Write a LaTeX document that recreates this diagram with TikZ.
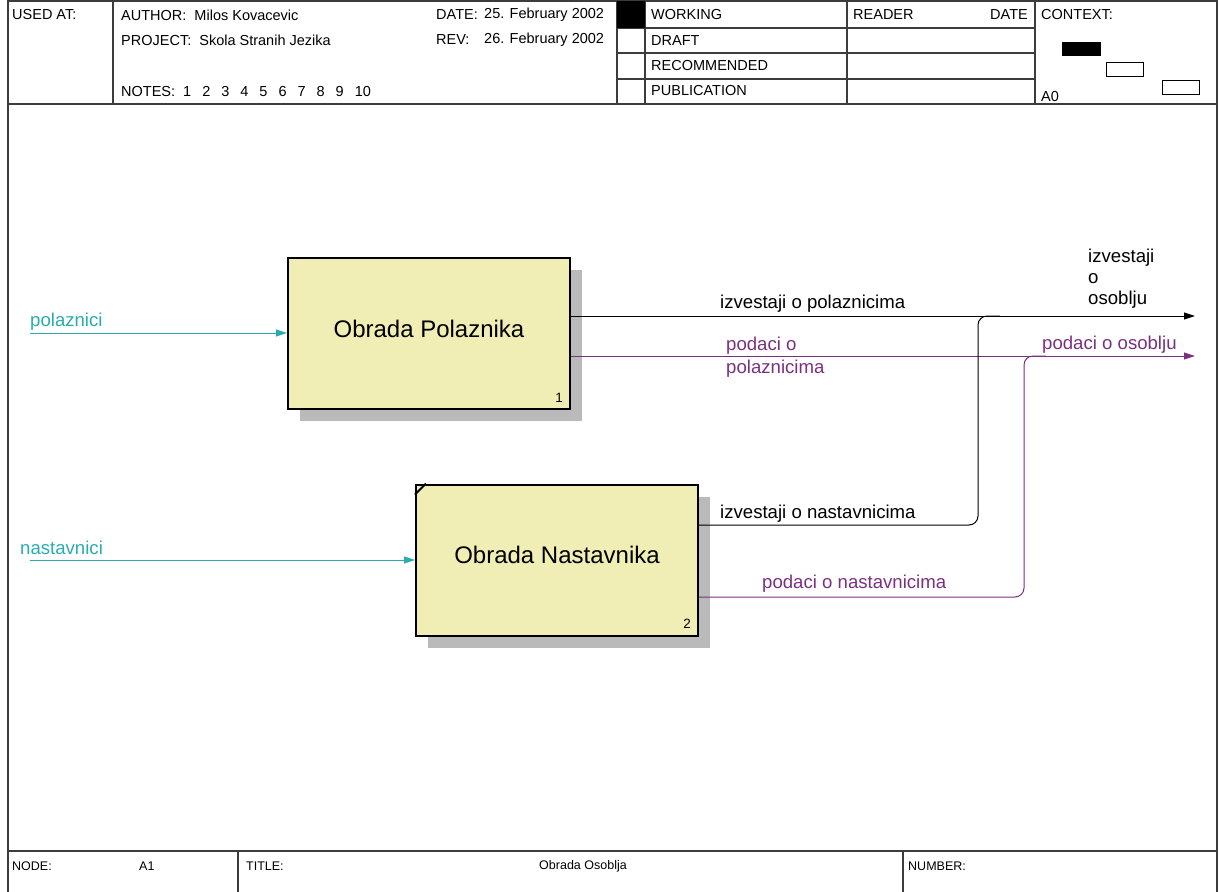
\documentclass[tikz,border=0pt]{standalone}
\usepackage{fontspec}
\setmainfont{Liberation Sans}
\usetikzlibrary{arrows.meta,shadows}
\definecolor{flowcyan}{RGB}{42,172,175}
\definecolor{flowpurple}{RGB}{122,48,128}
\definecolor{boxfill}{RGB}{240,238,180}
\definecolor{framec}{RGB}{60,60,60}
\tikzset{
  frameline/.style={line width=1.3pt, draw=framec},
  hdr/.style={anchor=west, inner sep=0pt, font=\fontsize{14.5}{16}\selectfont},
  ftr/.style={anchor=west, inner sep=0pt, font=\fontsize{12.5}{14}\selectfont},
  lbl/.style={anchor=west, inner sep=0pt, align=left, font=\fontsize{18.6}{23}\selectfont},
  actbox/.style={draw=black, line width=2pt, fill=boxfill, minimum width=282pt,
    minimum height=151pt, inner sep=0pt, font=\fontsize{24}{28}\selectfont,
    drop shadow={shadow xshift=12pt, shadow yshift=-12pt, fill=black!27, draw=none, opacity=1}},
  boxnum/.style={inner sep=0pt, font=\fontsize{13.5}{15}\selectfont},
  flow/.style={line width=1pt, -{Triangle[length=11pt,width=7pt]}},
  joinline/.style={line width=1pt, rounded corners=9pt},
}
\begin{document}
\begin{tikzpicture}[x=1pt,y=-1pt]
\useasboundingbox (0,0) rectangle (1219,892);
% ---------- frame ----------
\draw[frameline] (8,892) -- (8,1) -- (1217,1) -- (1217,892);
\draw[frameline] (8,104) -- (1217,104);
\draw[frameline] (8,851) -- (1217,851);
\draw[frameline] (113,1) -- (113,104);
\draw[frameline] (617,1) -- (617,104);
\draw[frameline] (645,1) -- (645,104);
\draw[frameline] (847,1) -- (847,104);
\draw[frameline] (1035,1) -- (1035,104);
\draw[frameline] (617,28) -- (1035,28);
\draw[frameline] (617,53) -- (1035,53);
\draw[frameline] (617,79) -- (1035,79);
\fill[black] (617,1) rectangle (645,28);
\draw[frameline] (238,851) -- (238,892);
\draw[frameline] (903,851) -- (903,892);
% context rectangles
\fill[black] (1062,42) rectangle (1101,56);
\draw[black, line width=1pt] (1106,62) rectangle (1143,76);
\draw[black, line width=1pt] (1162,80) rectangle (1199,94);
% ---------- header text ----------
\node[hdr] (usedat) at (12,15) {USED AT:};
\node[hdr] (author) at (121,15) {AUTHOR:\ \ Milos Kovacevic};
\node[hdr] (project) at (121,40) {PROJECT:\ \ Skola Stranih Jezika};
\node[hdr] (notes) at (121,92) {NOTES:\ \ 1\hspace{11pt}2\hspace{11pt}3\hspace{11pt}4\hspace{11pt}5\hspace{11pt}6\hspace{11pt}7\hspace{11pt}8\hspace{11pt}9\hspace{11pt}10};
\node[hdr] (datelbl) at (436,15) {DATE:};
\node[hdr] (dateval) at (484,15) {25. February 2002};
\node[hdr] (revlbl) at (436,40) {REV:};
\node[hdr] (revval) at (484,40) {26. February 2002};
\node[hdr] (working) at (651,15) {WORKING};
\node[hdr] (draft) at (651,41) {DRAFT};
\node[hdr] (recommended) at (651,66) {RECOMMENDED};
\node[hdr] (publication) at (651,91) {PUBLICATION};
\node[hdr] (reader) at (853,15) {READER};
\node[hdr, anchor=east] (readerdate) at (1028,15) {DATE};
\node[hdr] (context) at (1041,15) {CONTEXT:};
\node[hdr] (a0) at (1041,97) {A0};
% ---------- footer text ----------
\node[ftr] (nodelbl) at (12,866) {NODE:};
\node[ftr] (nodeval) at (139,866) {A1};
\node[ftr] (titlelbl) at (246,866) {TITLE:};
\node[ftr, anchor=center] (titleval) at (583,866) {Obrada Osoblja};
\node[ftr] (numberlbl) at (908,866) {NUMBER:};
% ---------- activity boxes ----------
\node[actbox] (box1) at (429,333.5) {\raisebox{9pt}{Obrada Polaznika}};
\node[boxnum] (num1) at ([xshift=-12pt,yshift=12pt]box1.south east) {1};
\node[actbox] (box2) at (557,560) {\raisebox{10pt}{Obrada Nastavnika}};
\node[boxnum] (num2) at ([xshift=-12pt,yshift=13pt]box2.south east) {2};
\draw[line width=2pt] ([yshift=-11pt]box2.north west) -- ([xshift=11pt]box2.north west);
% ---------- connectors ----------
\coordinate (in1) at (30,333);
\coordinate (in2) at (30,560);
\coordinate (out1) at (1195,316);
\coordinate (out2) at (1195,356);
\coordinate (j1) at (978,525);
\coordinate (j2) at (1024,597);
\draw[flow, flowcyan] (in1) -- (box1.west |- in1);
\draw[flow, flowcyan] (in2) -- (box2.west |- in2);
\draw[flow] (box1.east |- out1) -- (out1);
\draw[flow, flowpurple] (box1.east |- out2) -- (out2);
\draw[joinline] (box2.east |- j1) -- (j1) -- (j1 |- out1) -- ++(22,0);
\draw[joinline, flowpurple] (box2.east |- j2) -- (j2) -- (j2 |- out2) -- ++(22,0);
% ---------- labels ----------
\node[lbl, text=flowcyan] (lpol) at (30,322) {polaznici};
\node[lbl, text=flowcyan] (lnas) at (20,548) {nastavnici};
\node[lbl] (lizp) at (720,304) {izvestaji o polaznicima};
\node[lbl, text=flowpurple] (lpodp) at (726,357) {podaci o\\polaznicima};
\node[lbl] (lizn) at (720,514) {izvestaji o nastavnicima};
\node[lbl, text=flowpurple] (lpodn) at (762,584) {podaci o nastavnicima};
\node[lbl, font=\fontsize{18.6}{21}\selectfont] (lizo) at (1088,279) {izvestaji\\o\\osoblju};
\node[lbl, text=flowpurple] (lpodo) at (1042,345) {podaci o osoblju};
\end{tikzpicture}
\end{document}
